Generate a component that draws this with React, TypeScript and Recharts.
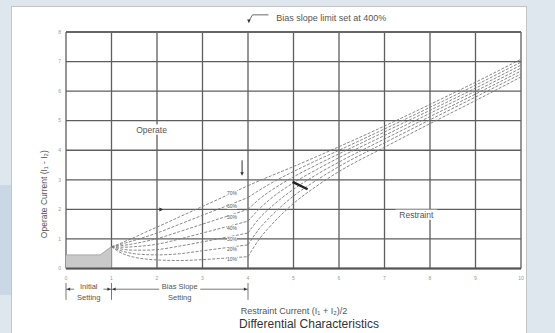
import React from 'react';
import { ComposedChart, Line, Area, XAxis, YAxis, CartesianGrid, ReferenceLine, ReferenceDot } from 'recharts';

// Restraint current sample points (x axis)
const restraintLeft = [1.0, 1.15, 1.3, 1.5, 1.75, 2, 2.5, 3, 3.5, 4];
const restraintRight = [4, 4.25, 4.5, 5, 5.5, 6, 7, 8, 9, 10];

// Operate current, bias-slope region (x = 1 .. 4)
const op10Left = [0.74, 0.58, 0.47, 0.38, 0.32, 0.29, 0.27, 0.3, 0.35, 0.4];
const op20Left = [0.74, 0.63, 0.56, 0.5, 0.47, 0.46, 0.5, 0.6, 0.7, 0.8];
const op30Left = [0.74, 0.68, 0.64, 0.62, 0.62, 0.64, 0.76, 0.9, 1.05, 1.2];
const op40Left = [0.74, 0.72, 0.72, 0.74, 0.77, 0.82, 1.0, 1.2, 1.4, 1.6];
const op50Left = [0.74, 0.76, 0.79, 0.84, 0.92, 1.01, 1.25, 1.5, 1.75, 2.0];
const op60Left = [0.74, 0.79, 0.86, 0.95, 1.07, 1.2, 1.5, 1.8, 2.1, 2.4];
const op70Left = [0.74, 0.82, 0.92, 1.05, 1.23, 1.4, 1.75, 2.1, 2.45, 2.8];

// Operate current beyond the bias slope limit (x = 4 .. 10)
const op10Right = [0.4, 1.0, 1.45, 2.2, 2.78, 3.28, 4.1, 4.9, 5.68, 6.48];
const op20Right = [0.8, 1.35, 1.76, 2.45, 2.98, 3.45, 4.25, 5.03, 5.8, 6.58];
const op30Right = [1.2, 1.7, 2.07, 2.68, 3.17, 3.6, 4.38, 5.14, 5.9, 6.68];
const op40Right = [1.6, 2.02, 2.36, 2.9, 3.34, 3.75, 4.5, 5.25, 6.0, 6.78];
const op50Right = [2.0, 2.35, 2.63, 3.1, 3.5, 3.88, 4.62, 5.35, 6.1, 6.88];
const op60Right = [2.4, 2.65, 2.88, 3.28, 3.65, 4.0, 4.72, 5.45, 6.2, 6.98];
const op70Right = [2.8, 2.97, 3.13, 3.45, 3.78, 4.12, 4.82, 5.55, 6.3, 7.08];

const slopeLabels = ['10%', '20%', '30%', '40%', '50%', '60%', '70%'];
const slopeLabelX = 3.65;
const slopeLabelY = [0.31, 0.65, 0.99, 1.36, 1.75, 2.11, 2.56];

// Initial setting (shaded) region
const initialX = [0, 0.75, 1.0];
const initialY = [0.46, 0.46, 0.74];

const xTicks = [0, 1, 2, 3, 4, 5, 6, 7, 8, 9, 10];
const yTicks = [0, 1, 2, 3, 4, 5, 6, 7, 8];

const leftSeries = [op10Left, op20Left, op30Left, op40Left, op50Left, op60Left, op70Left];
const rightSeries = [op10Right, op20Right, op30Right, op40Right, op50Right, op60Right, op70Right];

const toRows = (xs: number[], ys: number[]) => xs.map((x, i) => ({ x, y: ys[i] }));
const initialRows = toRows(initialX, initialY);

const FONT = '"Liberation Sans", Arial, sans-serif';
const LINE = '#7a7a7a';
const TXT = '#555';

const textShape = (text: string, size: number, bg: boolean, anchor: 'start' | 'middle' | 'end' = 'middle', color = TXT) => (p: any) => {
  const w = text.length * size * 0.52 + 2;
  const x0 = anchor === 'middle' ? p.cx - w / 2 : anchor === 'start' ? p.cx - 1 : p.cx - w + 1;
  return (
    <g>
      {bg && <rect x={x0} y={p.cy - size * 0.6} width={w} height={size * 1.2} fill="#fff" />}
      <text x={p.cx} y={p.cy} dy={size * 0.35} fontSize={size} fill={color} textAnchor={anchor} fontFamily={FONT}>
        {text}
      </text>
    </g>
  );
};

const arrowShape = (dir: 'left' | 'right' | 'down', s = 3) => (p: any) => {
  const { cx, cy } = p;
  let d = '';
  if (dir === 'right') d = `M${cx},${cy} L${cx - s * 1.6},${cy - s * 0.8} L${cx - s * 1.6},${cy + s * 0.8} Z`;
  if (dir === 'left') d = `M${cx},${cy} L${cx + s * 1.6},${cy - s * 0.8} L${cx + s * 1.6},${cy + s * 0.8} Z`;
  if (dir === 'down') d = `M${cx},${cy} L${cx - s * 0.8},${cy - s * 1.6} L${cx + s * 0.8},${cy - s * 1.6} Z`;
  return <path d={d} fill="#333" />;
};

export default function App() {
  return (
    <div style={{ position: 'absolute', left: 0, top: 0, width: 555, height: 333, background: '#dfe7ee', overflow: 'hidden', fontFamily: FONT }}>
      <div style={{ position: 'absolute', left: 0, top: 185, width: 11, height: 110, background: '#c9d8e4' }} />
      <div style={{ position: 'absolute', left: 11, top: 6, width: 516, height: 340, background: '#fff', border: '1px solid #c4c4c4', boxSizing: 'border-box' }} />
      <div style={{ position: 'absolute', left: 0, top: 0 }}>
        <ComposedChart width={555} height={333} margin={{ top: 32, right: 34, bottom: 34.5, left: 54 }}>
          <CartesianGrid stroke="#5e5e5e" strokeWidth={1.3} horizontalValues={yTicks} verticalValues={xTicks} />
          <XAxis
            dataKey="x"
            type="number"
            domain={[0, 10]}
            ticks={xTicks}
            allowDataOverflow
            axisLine={false}
            tickLine={false}
            tick={{ fontSize: 5, fill: '#999', fontFamily: FONT }}
            height={30}
          />
          <YAxis
            type="number"
            domain={[0, 8]}
            ticks={yTicks}
            allowDataOverflow
            axisLine={false}
            tickLine={false}
            tickSize={3}
            width={12}
            tick={{ fontSize: 5, fill: '#999', fontFamily: FONT }}
            label={{ value: 'Operate Current (I\u2081 - I\u2082)', angle: -90, position: 'left', offset: 10, fontSize: 8.5, fill: TXT, fontFamily: FONT }}
          />
          <ReferenceLine y={8} stroke="#666" strokeWidth={2.2} />
          <ReferenceLine y={0} stroke="#555" strokeWidth={1.8} />
          <Area data={initialRows} dataKey="y" type="linear" fill="#c9c9c9" fillOpacity={1} stroke="#999" strokeWidth={0.8} isAnimationActive={false} />
          {leftSeries.map((s, i) => (
            <Line key={'l' + i} data={toRows(restraintLeft, s)} dataKey="y" type="monotone" stroke={LINE} strokeWidth={0.9} strokeDasharray="3 1.5" dot={false} isAnimationActive={false} />
          ))}
          {rightSeries.map((s, i) => (
            <Line key={'r' + i} data={toRows(restraintRight, s)} dataKey="y" type="monotone" stroke={LINE} strokeWidth={0.9} strokeDasharray="3 1.5" dot={false} isAnimationActive={false} />
          ))}
          {slopeLabels.map((t, i) => (
            <ReferenceDot key={'sl' + i} x={slopeLabelX} y={slopeLabelY[i]} r={1} shape={textShape(t, 5, true)} />
          ))}
          <ReferenceDot x={1.88} y={4.7} r={1} shape={textShape('Operate', 8.5, true)} />
          <ReferenceDot x={7.7} y={1.82} r={1} shape={textShape('Restraint', 8.5, true)} />
          {/* annotation marks */}
          <ReferenceLine segment={[{ x: 4.98, y: 2.93 }, { x: 5.31, y: 2.68 }]} stroke="#222" strokeWidth={2.4} />
          <ReferenceDot x={2.14} y={2.0} r={1} shape={arrowShape('right', 2.5)} />
          <ReferenceLine segment={[{ x: 3.87, y: 3.66 }, { x: 3.87, y: 3.2 }]} stroke="#333" strokeWidth={1} />
          <ReferenceDot x={3.87} y={3.14} r={1} shape={arrowShape('down', 2.2)} />
          {/* top leader */}
          <ReferenceLine segment={[{ x: 4.02, y: 8.38 }, { x: 4.1, y: 8.58 }]} stroke="#444" strokeWidth={0.8} ifOverflow="visible" />
          <ReferenceLine segment={[{ x: 4.1, y: 8.58 }, { x: 4.45, y: 8.58 }]} stroke="#444" strokeWidth={0.8} ifOverflow="visible" />
          <ReferenceDot x={4.02} y={8.3} r={1} shape={arrowShape('down', 2.2)} ifOverflow="visible" />
          <ReferenceDot x={4.62} y={8.49} r={1} shape={textShape('Bias slope limit set at 400%', 9, false, 'start')} ifOverflow="visible" />
          {/* bottom dimension arrows */}
          <ReferenceLine segment={[{ x: 0, y: -0.49 }, { x: 0, y: -1.06 }]} stroke="#555" strokeWidth={0.8} ifOverflow="visible" />
          <ReferenceLine segment={[{ x: 1, y: -0.49 }, { x: 1, y: -1.06 }]} stroke="#555" strokeWidth={0.8} ifOverflow="visible" />
          <ReferenceLine segment={[{ x: 4, y: -0.49 }, { x: 4, y: -1.06 }]} stroke="#555" strokeWidth={0.8} ifOverflow="visible" />
          <ReferenceLine segment={[{ x: 0, y: -0.7 }, { x: 1, y: -0.7 }]} stroke="#555" strokeWidth={0.8} ifOverflow="visible" />
          <ReferenceLine segment={[{ x: 1, y: -0.7 }, { x: 4, y: -0.7 }]} stroke="#555" strokeWidth={0.8} ifOverflow="visible" />
          <ReferenceDot x={0.02} y={-0.7} r={1} shape={arrowShape('left', 2)} ifOverflow="visible" />
          <ReferenceDot x={0.98} y={-0.7} r={1} shape={arrowShape('right', 2)} ifOverflow="visible" />
          <ReferenceDot x={1.02} y={-0.7} r={1} shape={arrowShape('left', 2)} ifOverflow="visible" />
          <ReferenceDot x={3.98} y={-0.7} r={1} shape={arrowShape('right', 2)} ifOverflow="visible" />
          <ReferenceDot x={0.5} y={-0.6} r={1} shape={textShape('Initial', 7.5, true)} ifOverflow="visible" />
          <ReferenceDot x={0.5} y={-0.99} r={1} shape={textShape('Setting', 7.5, false)} ifOverflow="visible" />
          <ReferenceDot x={2.5} y={-0.6} r={1} shape={textShape('Bias Slope', 7.5, true)} ifOverflow="visible" />
          <ReferenceDot x={2.5} y={-0.99} r={1} shape={textShape('Setting', 7.5, false)} ifOverflow="visible" />
        </ComposedChart>
      </div>
      <div style={{ position: 'absolute', left: 0, width: 588, top: 306, textAlign: 'center', fontSize: 9, color: TXT, whiteSpace: 'nowrap' }}>
        Restraint Current (I₁ + I₂)/2
      </div>
      <div style={{ position: 'absolute', left: 0, width: 618, top: 317, textAlign: 'center', fontSize: 12, color: '#333', whiteSpace: 'nowrap' }}>
        Differential Characteristics
      </div>
    </div>
  );
}
